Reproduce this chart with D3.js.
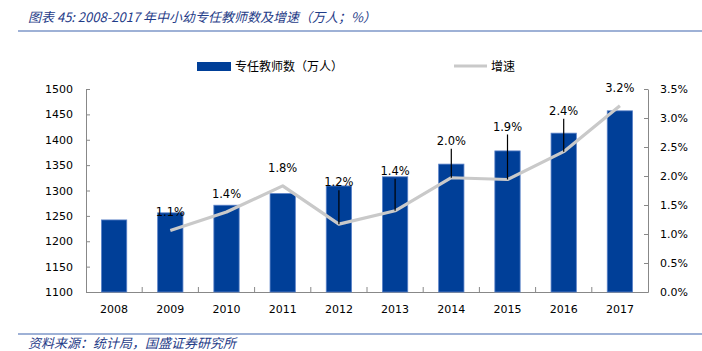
<!DOCTYPE html>
<html>
<head>
<meta charset="utf-8">
<script src="https://cdn.jsdelivr.net/npm/d3@7"></script>
<style>
  body { margin: 0; background: #fff; }
  text { font-family: "DejaVu Sans", Tahoma, sans-serif; }
  .cjk { font-family: "Noto Sans CJK SC", sans-serif; }
</style>
</head>
<body>
<div id="chart-area"></div>
<script>
var years = ["2008", "2009", "2010", "2011", "2012", "2013", "2014", "2015", "2016", "2017"];
var teachers = [1242, 1256, 1271, 1294, 1309, 1327, 1352, 1378, 1413, 1457];
var growth = [null, 1.06, 1.38, 1.83, 1.17, 1.40, 1.97, 1.94, 2.42, 3.21];
var leftTicks = [1100, 1150, 1200, 1250, 1300, 1350, 1400, 1450, 1500];
var rightTicks = [0, 0.5, 1, 1.5, 2, 2.5, 3, 3.5];

// how far each growth label sits above its point (px)
var labelLift = [0, 19, 18, 18, 42, 40, 37, 53, 41, 18];

var W = 702, H = 351;
var plot = {left: 86, right: 648, top: 89, bottom: 292};

var svg = d3.select("#chart-area")
  .append("svg")
  .attr("width", W)
  .attr("height", H);

var blue = "#003f98";
var titleBlue = "#1f3c88";

// title + rules
svg.append("text")
  .attr("class", "cjk")
  .attr("x", 28)
  .attr("y", 22)
  .attr("font-size", "13px")
  .attr("font-style", "italic")
  .attr("fill", titleBlue)
  .text("图表 45:  2008-2017 年中小幼专任教师数及增速（万人；%）");

svg.append("line")
  .attr("x1", 18).attr("x2", W)
  .attr("y1", 31).attr("y2", 31)
  .attr("stroke", "#3f64ad").attr("stroke-width", 1.2);

svg.append("line")
  .attr("x1", 18).attr("x2", W)
  .attr("y1", 334).attr("y2", 334)
  .attr("stroke", "#3f64ad").attr("stroke-width", 1.2);

svg.append("text")
  .attr("class", "cjk")
  .attr("x", 28)
  .attr("y", 348)
  .attr("font-size", "13px")
  .attr("font-style", "italic")
  .attr("fill", titleBlue)
  .text("资料来源：统计局，国盛证券研究所");

// scales
var xScale = d3.scaleBand()
  .domain(years)
  .range([plot.left, plot.right])
  .paddingInner(0.55)
  .paddingOuter(0.275);

var yLeft = d3.scaleLinear().domain([1100, 1500]).range([plot.bottom, plot.top]);
var yRight = d3.scaleLinear().domain([0, 3.5]).range([plot.bottom, plot.top]);

// axes
var leftAxis = svg.append("g")
  .attr("transform", "translate(" + plot.left + ",0)")
  .call(d3.axisLeft(yLeft).tickValues(leftTicks).tickSize(-4).tickPadding(13).tickSizeOuter(0)
    .tickFormat(d3.format("d")));

var rightAxis = svg.append("g")
  .attr("transform", "translate(" + plot.right + ",0)")
  .call(d3.axisRight(yRight).tickValues(rightTicks).tickSize(-4).tickPadding(12).tickSizeOuter(0)
    .tickFormat((d) => d.toFixed(1) + "%"));

var bottomAxis = svg.append("g")
  .attr("transform", "translate(0," + plot.bottom + ")")
  .call(d3.axisBottom(xScale).tickSize(0).tickPadding(13).tickSizeOuter(0));

// category boundary ticks
var gap = (xScale.step() - xScale.bandwidth()) / 2;
svg.append("g").selectAll("line")
  .data(years.slice(1))
  .enter()
  .append("line")
  .attr("x1", (d) => xScale(d) - gap)
  .attr("x2", (d) => xScale(d) - gap)
  .attr("y1", plot.bottom)
  .attr("y2", plot.bottom - 5)
  .attr("stroke", "#888");

[leftAxis, rightAxis, bottomAxis].forEach((g) => {
  g.selectAll("path").attr("stroke", "#888");
  g.selectAll(".tick line").attr("stroke", "#888");
  g.selectAll("text").attr("font-size", "11px").attr("fill", "#000")
    .attr("font-family", "DejaVu Sans, Tahoma, sans-serif");
});

// bars
svg.append("g").selectAll("rect")
  .data(years)
  .enter()
  .append("rect")
  .attr("x", (d) => xScale(d))
  .attr("y", (d, i) => yLeft(teachers[i]))
  .attr("width", xScale.bandwidth())
  .attr("height", (d, i) => plot.bottom - yLeft(teachers[i]))
  .attr("fill", blue)
  .attr("stroke", "#5b82c8")
  .attr("stroke-width", 0.8);

// growth line
var pts = years.map((d, i) => ({year: d, g: growth[i], lift: labelLift[i]}))
  .filter((d) => d.g !== null);

var line = d3.line()
  .x((d) => xScale(d.year) + xScale.bandwidth() / 2)
  .y((d) => yRight(d.g));

svg.append("path")
  .datum(pts)
  .attr("d", line)
  .attr("fill", "none")
  .attr("stroke", "#c9c9c9")
  .attr("stroke-width", 3.2)
  .attr("stroke-linejoin", "round");

// leader lines
svg.append("g").selectAll("line")
  .data(pts.filter((d) => d.lift > 25))
  .enter()
  .append("line")
  .attr("x1", (d) => xScale(d.year) + xScale.bandwidth() / 2)
  .attr("x2", (d) => xScale(d.year) + xScale.bandwidth() / 2)
  .attr("y1", (d) => yRight(d.g) - d.lift + 8)
  .attr("y2", (d) => yRight(d.g))
  .attr("stroke", "#000")
  .attr("stroke-width", 1.2);

// growth labels
svg.append("g").selectAll("text")
  .data(pts)
  .enter()
  .append("text")
  .attr("x", (d) => xScale(d.year) + xScale.bandwidth() / 2)
  .attr("y", (d) => yRight(d.g) - d.lift)
  .attr("dy", "0.35em")
  .attr("text-anchor", "middle")
  .attr("font-size", "11.5px")
  .attr("fill", "#000")
  .text((d) => d.g.toFixed(1) + "%");

// legend
svg.append("rect")
  .attr("x", 197).attr("y", 62)
  .attr("width", 34).attr("height", 9)
  .attr("fill", blue);
svg.append("text")
  .attr("class", "cjk")
  .attr("x", 235).attr("y", 67)
  .attr("dy", "0.35em")
  .attr("font-size", "12px")
  .text("专任教师数（万人）");

svg.append("line")
  .attr("x1", 454).attr("x2", 487)
  .attr("y1", 66).attr("y2", 66)
  .attr("stroke", "#c9c9c9").attr("stroke-width", 3.2);
svg.append("text")
  .attr("class", "cjk")
  .attr("x", 491).attr("y", 67)
  .attr("dy", "0.35em")
  .attr("font-size", "12px")
  .text("增速");
</script>
</body>
</html>
